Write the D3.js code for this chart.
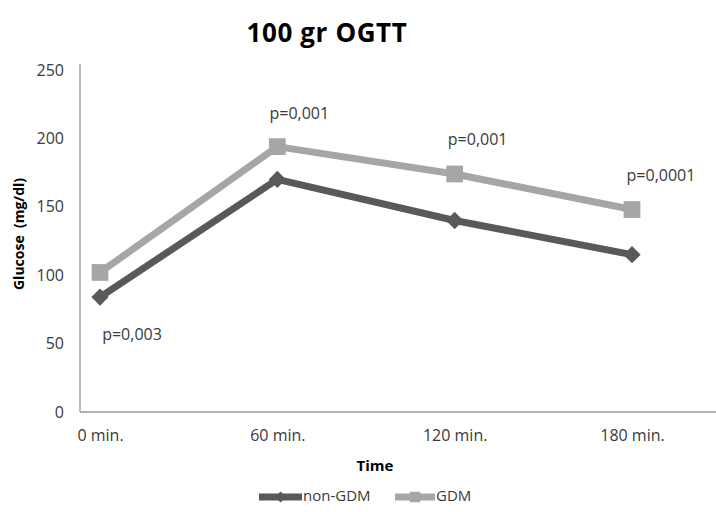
<!DOCTYPE html>
<html>
<head>
<meta charset="utf-8">
<script src="https://cdn.jsdelivr.net/npm/d3@7"></script>
<style>
  html, body { margin: 0; padding: 0; background: #fff; }
  svg { display: block; }
  text { font-family: "Open Sans", sans-serif; fill: #3a3a3a; }
</style>
</head>
<body>
<svg id="chart" width="716" height="512"></svg>
<script>
// Time points of the 100 g oral glucose tolerance test
const categories = ["0 min.", "60 min.", "120 min.", "180 min."];
// Mean glucose (mg/dl) per group
const nonGDM = [84, 170, 140, 115];
const GDM = [102, 194, 174, 148];
// p-value annotations, one per time point
const pLabels = ["p=0,003", "p=0,001", "p=0,001", "p=0,0001"];
const yTicks = [0, 50, 100, 150, 200, 250];

const svg = d3.select("#chart");
const plot = { left: 80, right: 716, top: 70, bottom: 412 };

const x = d3.scalePoint().domain(categories).range([100, 632]);
const y = d3.scaleLinear().domain([0, 250]).range([plot.bottom, plot.top]);

const darkColor = "#595959";
const lightColor = "#a6a6a6";
const axisColor = "#9a9a9a";

// Title
svg.append("text")
  .attr("x", 327).attr("y", 42)
  .attr("text-anchor", "middle")
  .style("font-size", "26px").style("font-weight", "bold")
  .style("letter-spacing", "0.6px")
  .style("fill", "#000")
  .text("100 gr OGTT");

// Y axis labels
const yAxis = d3.axisLeft(y).tickValues(yTicks).tickSize(0).tickPadding(16);
const gy = svg.append("g").attr("transform", `translate(${plot.left},0)`).call(yAxis);
gy.select(".domain").remove();
gy.selectAll("text").style("font-size", "16px").style("fill", "#3a3a3a")
  .style("font-family", "'Open Sans', sans-serif");

// Vertical axis line
svg.append("line")
  .attr("x1", plot.left).attr("x2", plot.left)
  .attr("y1", plot.top - 6).attr("y2", plot.bottom)
  .attr("stroke", axisColor).attr("stroke-width", 1.3);

// Horizontal baseline across the plot
svg.append("line")
  .attr("x1", plot.left).attr("x2", plot.right)
  .attr("y1", plot.bottom).attr("y2", plot.bottom)
  .attr("stroke", axisColor).attr("stroke-width", 1.3);

const xAxis = d3.axisBottom(x).tickSize(0).tickPadding(18);
const gx = svg.append("g").attr("transform", `translate(0,${plot.bottom})`).call(xAxis);
gx.select(".domain").remove();
gx.selectAll("text").style("font-size", "16px").style("fill", "#3a3a3a")
  .style("font-family", "'Open Sans', sans-serif");

// Axis titles
svg.append("text")
  .attr("x", 375).attr("y", 471)
  .attr("text-anchor", "middle")
  .style("font-size", "15px").style("font-weight", "bold").style("fill", "#000")
  .text("Time");

svg.append("text")
  .attr("transform", "translate(24,234) rotate(-90)")
  .attr("text-anchor", "middle")
  .style("font-size", "14px").style("font-weight", "bold").style("fill", "#000")
  .attr("xml:space", "preserve")
  .text("Glucose  (mg/dl)");

// Series
const line = d3.line().x((d, i) => x(categories[i])).y(d => y(d));

function drawSeries(values, color, size, rotate) {
  svg.append("path")
    .datum(values)
    .attr("d", line)
    .attr("fill", "none")
    .attr("stroke", color)
    .attr("stroke-width", 7)
    .attr("stroke-linejoin", "round");
  svg.append("g").selectAll("path")
    .data(values)
    .join("path")
    .attr("transform", (d, i) => `translate(${x(categories[i])},${y(d)})` + (rotate ? " rotate(45)" : ""))
    .attr("d", d3.symbol().type(d3.symbolSquare).size(size)())
    .attr("fill", color);
}

drawSeries(GDM, lightColor, 280, false);
drawSeries(nonGDM, darkColor, 150, true);

// p-value labels: the first sits under non-GDM, the rest above GDM
const pPos = [
  { v: nonGDM[0], dy: 39, dx: 32 },
  { v: GDM[1], dy: -32, dx: 22 },
  { v: GDM[2], dy: -33, dx: 23 },
  { v: GDM[3], dy: -33, dx: 29 }
];
svg.append("g").selectAll("text")
  .data(pLabels)
  .join("text")
  .attr("x", (d, i) => x(categories[i]) + pPos[i].dx)
  .attr("y", (d, i) => y(pPos[i].v) + pPos[i].dy)
  .attr("text-anchor", "middle")
  .attr("dominant-baseline", "middle")
  .style("font-size", "16px")
  .text(d => d);

// Legend
const legend = svg.append("g");
const legendItems = [
  { name: "non-GDM", color: darkColor, x0: 259, x1: 302, shape: "diamond" },
  { name: "GDM", color: lightColor, x0: 395, x1: 435, shape: "square" }
];
const ly = 497;
legendItems.forEach(it => {
  legend.append("line")
    .attr("x1", it.x0).attr("x2", it.x1)
    .attr("y1", ly).attr("y2", ly)
    .attr("stroke", it.color).attr("stroke-width", 7);
  legend.append("path")
    .attr("transform", `translate(${(it.x0 + it.x1) / 2},${ly})` + (it.shape === "diamond" ? " rotate(45)" : ""))
    .attr("d", d3.symbol().type(d3.symbolSquare).size(it.shape === "diamond" ? 60 : 110)())
    .attr("fill", it.color);
  legend.append("text")
    .attr("x", it.x1 + 1).attr("y", ly)
    .attr("dominant-baseline", "middle")
    .style("font-size", "15px")
    .text(it.name);
});
</script>
</body>
</html>
